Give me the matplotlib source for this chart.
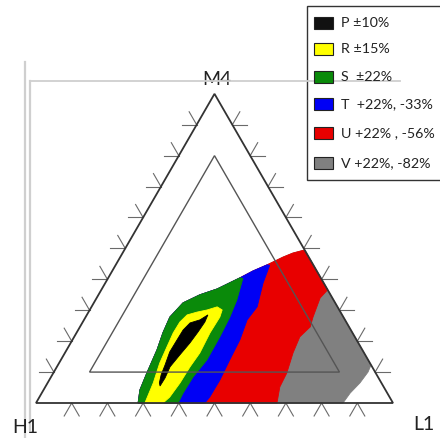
import numpy as np
import matplotlib
matplotlib.use("Agg")
import matplotlib.pyplot as plt
from matplotlib.patches import Rectangle, Polygon

# ---------------- data (ternary compositions, % of L1 and M4; H1 = 100 - L1 - M4)
vertex_labels = ["H1", "L1", "M4"]
legend_labels = ["P \u00b110%", "R \u00b115%", "S  \u00b122%", "T  +22%, -33%",
                 "U +22% , -56%", "V +22%, -82%"]
colors = ["#111111", "#ffff00", "#0a8a0a", "#0000f5", "#e80000", "#808080"]

# outer boundary of the coloured field (from the H1-L1 edge upward to the L1-M4 edge)
edge_S_L = [28.6, 27.0, 26.2, 25.3, 24.2, 23.6, 25.0, 28.4, 32.3, 36.9]
edge_S_M = [0.0, 4.2, 9.7, 17.2, 22.7, 27.8, 32.4, 35.0, 36.9, 40.5]
edge_T_L = [39.4, 42.4]
edge_T_M = [42.7, 44.7]
edge_U_L = [45.6, 47.7, 50.5]
edge_U_M = [47.2, 48.5, 49.5]

# S / T boundary (top to bottom)
st_L = [37.8, 39.6, 40.4, 40.8, 40.9, 39.8, 39.6, 39.8]
st_M = [40.3, 33.3, 27.8, 21.4, 13.9, 8.4, 3.2, 0.0]
# T / U boundary
tu_L = [43.2, 44.2, 46.4, 45.7, 46.9, 47.3, 47.8, 47.7, 47.3]
tu_M = [44.5, 38.8, 31.1, 26.9, 20.4, 13.9, 7.4, 1.9, 0.0]
# U / V boundary (starts on the L1-M4 edge)
uv_L = [63.4, 62.6, 63.7, 64.5, 63.2, 63.9, 65.4, 65.7, 67.5]
uv_M = [36.6, 34.0, 27.8, 24.6, 21.4, 16.2, 9.7, 5.2, 0.0]
# V outer boundary (along the L1-M4 edge, then down to the base)
v_L = [63.4, 87.7, 88.0, 87.5, 86.4, 86.0]
v_M = [36.6, 12.3, 10.0, 6.5, 3.2, 0.0]
# R region (closed)
r_L = [30.5, 29.6, 28.2, 27.6, 27.1, 27.2, 28.1, 30.4, 32.9, 35.2, 37.1, 37.6,
       37.4, 37.8, 37.3, 37.1, 36.5, 35.6]
r_M = [0.0, 6.5, 12.9, 18.1, 22.7, 26.2, 28.5, 29.4, 30.1, 31.1, 30.1, 27.8,
       22.7, 16.2, 11.7, 6.5, 1.9, 0.0]
# P region (closed)
p_L = [33.9, 32.5, 30.2, 29.4, 29.3, 29.2, 30.0, 30.5, 31.3, 32.0, 32.1, 31.7,
       32.5, 33.4, 33.9, 34.2]
p_M = [28.5, 26.9, 25.9, 23.6, 20.4, 16.5, 12.3, 9.1, 6.5, 5.5, 8.1, 11.7,
       15.5, 19.4, 23.0, 26.2]

inner_min = 10.0   # inner triangle: every component >= 10 %
tick_fracs = np.arange(10, 100, 10)

# ---------------- helpers
S3 = np.sqrt(3) / 2


def tern(L, M):
    L = np.asarray(L, float) / 100.0
    M = np.asarray(M, float) / 100.0
    return np.column_stack([L + M / 2, M * S3])


fig = plt.figure(figsize=(4.4, 4.38), dpi=100)
ax = fig.add_axes([0, 0, 1, 1])
ax.set_xlim(-36 / 357, 404 / 357)
ax.set_ylim(-35 / 357, 403 / 357)
ax.axis("off")

edge_S = (edge_S_L, edge_S_M)
edge_T = (edge_T_L, edge_T_M)
edge_U = (edge_U_L, edge_U_M)


def cat(*parts):
    return ([v for p in parts for v in p[0]], [v for p in parts for v in p[1]])


# cumulative regions drawn from outside to inside
regions = [
    (cat(edge_S, edge_T, edge_U, (v_L, v_M)), colors[5]),
    (cat(edge_S, edge_T, edge_U, (uv_L, uv_M)), colors[4]),
    (cat(edge_S, edge_T, (tu_L, tu_M)), colors[3]),
    (cat(edge_S, (st_L, st_M)), colors[2]),
    ((r_L, r_M), colors[1]),
    ((p_L, p_M), "#000000"),
]
for (Ls, Ms), c in regions:
    ax.add_patch(Polygon(tern(Ls, Ms), closed=True, facecolor=c,
                         edgecolor=c, lw=0.6, zorder=2))

# outer triangle
outer = tern([0, 100, 0], [0, 0, 100])
ax.add_patch(Polygon(outer, closed=True, fill=False, edgecolor="#333333",
                     lw=1.3, zorder=5, joinstyle="miter"))
# inner triangle
lo = inner_min
inner = tern([lo, 100 - 2 * lo, lo], [lo, lo, 100 - 2 * lo])
ax.add_patch(Polygon(inner, closed=True, fill=False, edgecolor="#555555",
                     lw=1.0, zorder=5, joinstyle="miter"))

# ternary ticks
TL = 15 / 357
tk = dict(color="#6a6a6a", lw=0.8, zorder=4)
for t in tick_fracs:
    # left edge (H1-M4)
    x, y = tern([0], [t])[0]
    ax.plot([x - TL, x], [y, y], **tk)
    ax.plot([x - 0.5 * TL, x], [y + S3 * TL, y], **tk)
    # right edge (L1-M4)
    x, y = tern([100 - t], [t])[0]
    ax.plot([x, x + TL], [y, y], **tk)
    ax.plot([x, x + 0.5 * TL], [y, y + S3 * TL], **tk)
    # bottom edge (H1-L1)
    x, y = tern([t], [0])[0]
    ax.plot([x - 0.5 * TL, x, x + 0.5 * TL], [y - S3 * TL, y, y - S3 * TL], **tk)

# ---------------- overlay in pixel units for frame, labels, legend
ov = fig.add_axes([0, 0, 1, 1], facecolor="none")
ov.set_xlim(0, 440)
ov.set_ylim(438, 0)
ov.axis("off")

fc = "#cfcfcf"
ov.plot([25, 25], [62, 438], color=fc, lw=1.6, zorder=1)
ov.plot([30, 30], [81, 430], color=fc, lw=1.6, zorder=1)
ov.plot([30, 400], [81, 81], color=fc, lw=1.3, zorder=7)

font = ["Lato", "DejaVu Sans"]
ov.text(217, 85, vertex_labels[2], ha="center", va="baseline", fontsize=14,
        family=font, color="#222222")
ov.text(25, 433, vertex_labels[0], ha="center", va="baseline", fontsize=14,
        family=font, color="#222222")
ov.text(424, 430, vertex_labels[1], ha="center", va="baseline", fontsize=14,
        family=font, color="#222222")

# legend box
ov.add_patch(Rectangle((307, 6), 150, 174, facecolor="white",
                       edgecolor="#333333", lw=1.0, zorder=6))
row_y = [23, 49, 77, 104, 133, 163]
for yy, lab, c in zip(row_y, legend_labels, colors):
    ov.add_patch(Rectangle((314, yy - 6), 19, 12, facecolor=c,
                           edgecolor="#222222", lw=0.8, zorder=8))
    ov.text(341, yy, lab, ha="left", va="center", fontsize=10.3,
            family=font, color="#222222", zorder=8)

fig.savefig("out.png", dpi=100)
